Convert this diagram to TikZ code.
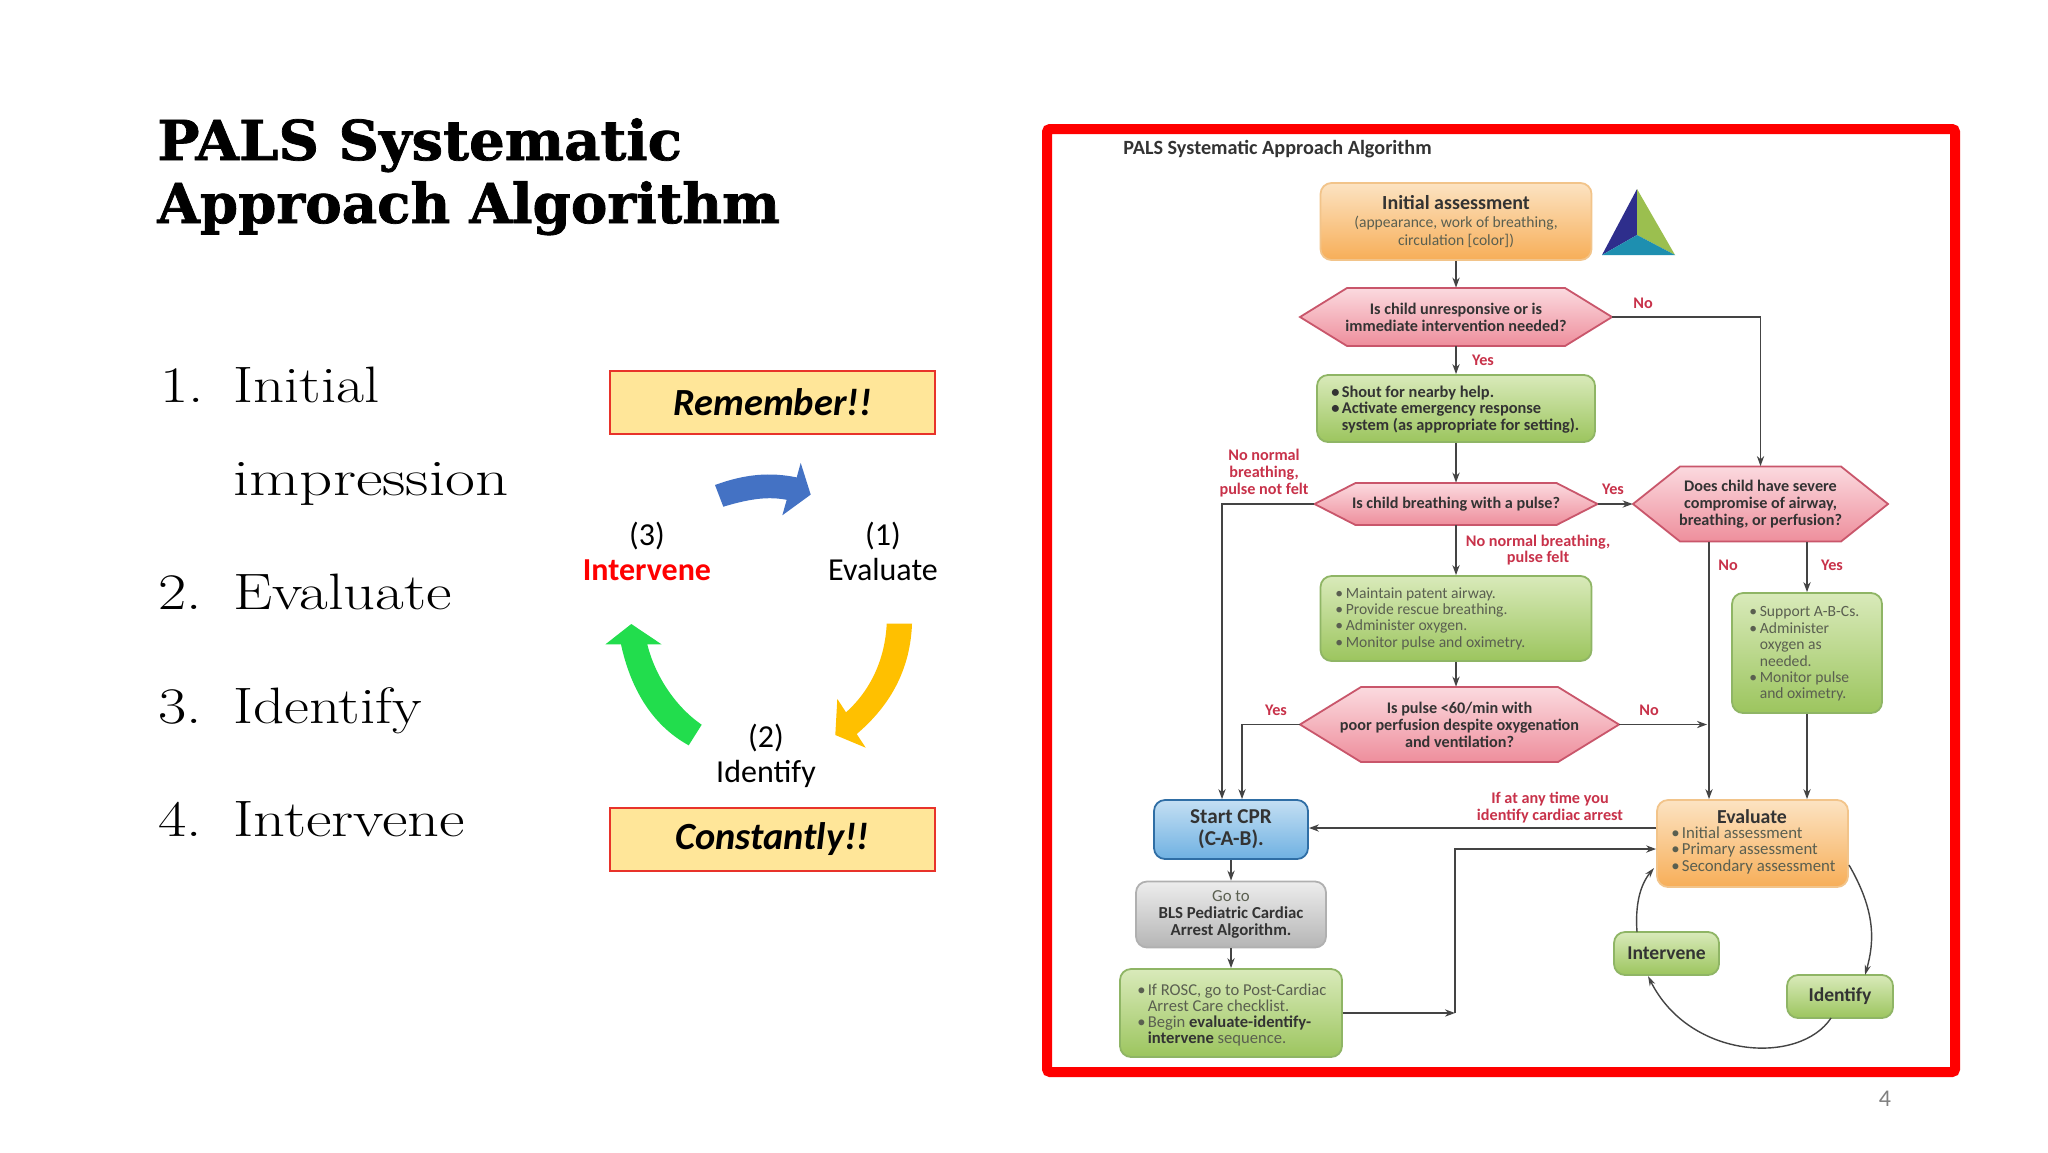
\documentclass[tikz,border=0pt]{standalone}
\usepackage{fontspec}
\usepackage{graphicx}
\usetikzlibrary{arrows.meta}
\newfontfamily\calib{Carlito}
\newfontfamily\ttl[BoldFeatures={FakeBold=1.3}]{DejaVu Serif}
\newcommand\hexc[1]{\definecolor{#1}{HTML}{#1}}
\hexc{F2C48A}\hexc{FCE3C2}\hexc{F7AE58}\hexc{8FB565}\hexc{D9EABA}\hexc{9CC55E}
\hexc{2F6EA5}\hexc{C4DFF3}\hexc{6FB1E2}\hexc{B0B0B0}\hexc{EDEDED}\hexc{B5B5B5}
\hexc{C9566B}\hexc{FBDADF}\hexc{EE8E9C}\hexc{E8332A}\hexc{FFE699}
\hexc{4472C4}\hexc{FFC000}\hexc{22DD4D}\hexc{2E2E8C}\hexc{9BBF4F}\hexc{1E8FB0}
\definecolor{linec}{HTML}{444444}
\definecolor{redt}{HTML}{C8324A}
\definecolor{dk}{HTML}{333333}
\definecolor{md}{HTML}{5A5F50}
\newcommand\hexnode[7]{%
  \path[hexfill] ({#2-#4/2},#3) -- ({#2-#4/2+#6},{#3-#5/2}) -- ({#2+#4/2-#6},{#3-#5/2}) -- ({#2+#4/2},#3) -- ({#2+#4/2-#6},{#3+#5/2}) -- ({#2-#4/2+#6},{#3+#5/2}) -- cycle;
  \node[sz={#4}{#5},align=center,font=\calib\bfseries\fontsize{8.1}{8.5}\selectfont,text=dk] (#1) at (#2,#3) {#7};}
\newcommand\bul{\makebox[5.2pt][l]{•}}
\tikzset{
  sz/.style 2 args={minimum width=#1*.5pt,minimum height=#2*.5pt,inner sep=0pt},
  rbox/.style={rectangle,rounded corners=5.5pt,line width=.9pt},
  orangebox/.style={rbox,draw=F2C48A,top color=FCE3C2,bottom color=F7AE58},
  greenbox/.style={rbox,draw=8FB565,top color=D9EABA,bottom color=9CC55E},
  bluebox/.style={rbox,draw=2F6EA5,top color=C4DFF3,bottom color=6FB1E2},
  graybox/.style={rbox,draw=B0B0B0,top color=EDEDED,bottom color=B5B5B5},
  hexfill/.style={draw=C9566B,line width=.9pt,top color=FBDADF,bottom color=EE8E9C},
  arr/.style={draw=linec,line width=.95pt,-{Stealth[length=5pt,width=3.6pt]}},
  cyc/.style={draw=linec,line width=.7pt,-{Stealth[length=5pt,width=3pt]}},
  redlab/.style={font=\calib\bfseries\fontsize{8.1}{8.3}\selectfont,text=redt,align=center,inner sep=0pt},
  blt/.style={anchor=west,align=left,inner sep=0pt,text=md,font=\calib\fontsize{7.8}{8.2}\selectfont},
  bltb/.style={blt,text=dk,font=\calib\bfseries\fontsize{8.2}{8.2}\selectfont},
  memo/.style={rectangle,draw=E8332A,line width=.9pt,fill=FFE699,sz={325}{63},font=\calib\bfseries\itshape\fontsize{19.2}{20}\selectfont},
  cyclab/.style={align=center,inner sep=0pt,font=\calib\fontsize{16}{17.5}\selectfont},
  body/.style={anchor=base west,inner sep=0pt,font=\fontsize{25.6}{30}\selectfont},
  head/.style={anchor=base west,inner sep=0pt,font=\ttl\bfseries\fontsize{27.5}{30}\selectfont},
  flow/.style={text=dk,font=\calib\bfseries\fontsize{9.8}{10}\selectfont}
}
\begin{document}
\begin{tikzpicture}[x=.5pt,y=-.5pt]
\useasboundingbox (0,0) rectangle (2048,1152);
\fill[white] (0,0) rectangle (2048,1152);
% title
\node[head] (t1) at (157,160) {\scalebox{1.02}[1]{PALS Systematic}};
\node[head] (t2) at (157,223) {\scalebox{.995}[1]{Approach Algorithm}};
% list
\node[body] (n1) at (160,402) {\scalebox{1.2}[1]{1.}};
\node[body] (l1) at (233,402) {\scalebox{1.19}[1]{Initial}};
\node[body] (l1b) at (233,495) {\scalebox{1.27}[1]{impression}};
\node[body] (n2) at (158,609) {\scalebox{1.2}[1]{2.}};
\node[body] (l2) at (233,609) {\scalebox{1.22}[1]{Evaluate}};
\node[body] (n3) at (158,723) {\scalebox{1.2}[1]{3.}};
\node[body] (l3) at (233,723) {\scalebox{1.19}[1]{Identify}};
\node[body] (n4) at (158,836) {\scalebox{1.2}[1]{4.}};
\node[body] (l4) at (233,836) {\scalebox{1.22}[1]{Intervene}};
% cycle
\node[memo] (rem) at (772.5,402.5) {Remember!!};
\node[memo] (con) at (772.5,839.5) {Constantly!!};
\node[cyclab] (c1) at (883,551.5) {(1)\\Evaluate};
\node[cyclab] (c2) at (766,756) {(2)\\Identify};
\node[cyclab] (c3) at (647,551.5) {(3)\\\textcolor{red}{\bfseries Intervene}};
\fill[color=4472C4] (715,485) -- (723.3,506.7) .. controls (753,497.7) and (770,496.7) .. (786.7,499.8) -- (782.3,515.3) -- (810.7,494.6) -- (800.7,462.9) -- (796.7,477.4) .. controls (770,471.9) and (745,474) .. cycle;
\fill[color=FFC000] (886.7,623.7) -- (912,623.7) .. controls (910,677.5) and (883,711.6) .. (856.7,734) -- (865.7,747.7) -- (835.3,735) -- (837.3,698.9) -- (846,712.3) .. controls (870,690.9) and (885,659.9) .. cycle;
\fill[color=22DD4D] (701.7,724.7) -- (688.7,745.3) .. controls (650,724) and (630,685.7) .. (621,644.4) -- (605.3,644.4) -- (631.3,624) -- (661.7,644.4) -- (647.3,644.4) .. controls (655,675.4) and (675,706.4) .. cycle;
% frame
\draw[red,line width=5pt,rounded corners=1.5pt] (1047,129) rectangle (1955,1072);
% flowchart
\node[anchor=west,inner sep=0pt,text=dk,font=\calib\bfseries\fontsize{10.1}{10}\selectfont] (ftitle) at (1123,149.5) {PALS Systematic Approach Algorithm};
\node[orangebox,sz={271}{77},align=center,text=md,font=\calib\fontsize{7.8}{9}\selectfont] (init) at (1456,221.5) {{\bfseries\color{dk}\fontsize{10}{9}\selectfont Initial assessment}\\(appearance, work of breathing,\\circulation [color])};
\fill[color=2E2E8C] (1637,189) -- (1637,235) -- (1602,255) -- cycle;
\fill[color=9BBF4F] (1637,189) -- (1637,235) -- (1675,255) -- cycle;
\fill[color=1E8FB0] (1637,235) -- (1602,255) -- (1675,255) -- cycle;
\hexnode{hexA}{1456}{317}{312}{58}{47}{Is child unresponsive or is\\immediate intervention needed?}
\node[greenbox,sz={278}{67}] (g1) at (1456,408.5) {};
\node[bltb] (g1t) at (1331,409.5) {\bul Shout for nearby help.\\\bul Activate emergency response\\\hspace*{5.2pt}system (as appropriate for setting).};
\hexnode{hexB}{1456}{504}{283}{42}{41}{Is child breathing with a pulse?}
\hexnode{hexC}{1760.5}{504}{255}{75}{47}{Does child have severe\\compromise of airway,\\breathing, or perfusion?}
\node[greenbox,sz={271}{85}] (g2) at (1456,618.5) {};
\node[blt] (g2t) at (1335,618.5) {\bul Maintain patent airway.\\\bul Provide rescue breathing.\\\bul Administer oxygen.\\\bul Monitor pulse and oximetry.};
\hexnode{hexD}{1459.5}{724.5}{319}{75}{61}{Is pulse <60/min with\\poor perfusion despite oxygenation\\and ventilation?}
\node[greenbox,sz={150}{120}] (sup) at (1807,653) {};
\node[blt] (supt) at (1749,654) {\bul Support A-B-Cs.\\\bul Administer\\\hspace*{5.2pt}oxygen as\\\hspace*{5.2pt}needed.\\\bul Monitor pulse\\\hspace*{5.2pt}and oximetry.};
\node[orangebox,sz={191}{87}] (eval) at (1752.5,843.5) {};
\node[anchor=center,inner sep=0pt,text=dk,font=\calib\bfseries\fontsize{9.9}{9}\selectfont] (evalh) at (1752,816.5) {Evaluate};
\node[blt,font=\calib\fontsize{8.4}{8.2}\selectfont] (evalt) at (1671,850.5) {\bul Initial assessment\\\bul Primary assessment\\\bul Secondary assessment};
\node[bluebox,sz={154}{59},align=center,flow,font=\calib\bfseries\fontsize{10.6}{11}\selectfont] (cpr) at (1231,829.5) {Start CPR\\(C-A-B).};
\node[graybox,sz={190}{66},align=center,text=dk,font=\calib\bfseries\fontsize{8.4}{8.6}\selectfont] (goto) at (1231,914.5) {{\mdseries\color{md}Go to}\\BLS Pediatric Cardiac\\Arrest Algorithm.};
\node[greenbox,sz={222}{88}] (g3) at (1231,1013) {};
\node[blt,font=\calib\fontsize{8.3}{8}\selectfont] (g3t) at (1137,1015) {\bul If ROSC, go to Post-Cardiac\\\hspace*{5.2pt}Arrest Care checklist.\\\bul Begin {\bfseries\color{dk}evaluate-identify-}\\\hspace*{5.2pt}{\bfseries\color{dk}intervene} sequence.};
\node[greenbox,sz={105}{43},flow] (inter) at (1666.5,953.5) {Intervene};
\node[greenbox,sz={106}{43},flow] (ident) at (1840,996.5) {Identify};
% helper coordinates
\coordinate (xa) at (1222,0);
\coordinate (xb) at (1242,0);
\coordinate (xno) at (1709,0);
\coordinate (xyes) at (1807,0);
\coordinate (ya) at (0,828);
\coordinate (yb) at (0,849);
\coordinate (jn) at (1455,1013);
\coordinate (ea) at (1849,865);
\coordinate (eb) at (1654,868);
\coordinate (ia) at (1865,975);
\coordinate (ib) at (1831,1018);
\coordinate (ic) at (1648,976);
\coordinate (id) at (1637,932);
% connectors
\draw[arr] (init.south) -- (hexA.north);
\draw[arr] (hexA.south) -- (g1.north);
\draw[arr] (hexA.east) -| (hexC.north);
\draw[arr] (g1.south) -- (hexB.north);
\draw[arr] (hexB.east) -- (hexC.west);
\draw[arr] (hexB.south) -- (g2.north);
\draw[arr] (hexB.west) -| (xa |- cpr.north);
\draw[arr] (g2.south) -- (g2.south |- hexD.north);
\draw[arr] (hexD.west) -| (xb |- cpr.north);
\draw[arr] (hexD.east) -- ([xshift=-1pt]xno |- hexD.east);
\draw[arr] (xno |- hexC.south) -- (xno |- eval.north);
\draw[arr] (xyes |- hexC.south) -- (xyes |- sup.north);
\draw[arr] (sup.south) -- (sup.south |- eval.north);
\draw[arr] (ya -| eval.west) -- (ya -| cpr.east);
\draw[arr] (cpr.south) -- (goto.north);
\draw[arr] (goto.south) -- (g3.north);
\draw[arr] (g3.east) -- (jn);
\draw[arr] (jn) |- (yb -| eval.west);
\draw[cyc] (ea) .. controls (1875,910) and (1875,940) .. (ia);
\draw[cyc] (ib) .. controls (1800,1065) and (1690,1060) .. (ic);
\draw[cyc] (id) .. controls (1635,905) and (1640,885) .. (eb);
% labels
\node[redlab] (lno1) at (1643,303) {No};
\node[redlab] (lyes1) at (1483,360) {Yes};
\node[redlab] (lnn) at (1264,473) {No normal\\breathing,\\pulse not felt};
\node[redlab] (lyes2) at (1613,489) {Yes};
\node[redlab] (lnf) at (1538,550) {No normal breathing,\\pulse felt};
\node[redlab] (lno2) at (1728,565) {No};
\node[redlab] (lyes3) at (1832,565) {Yes};
\node[redlab] (lyes4) at (1276,710) {Yes};
\node[redlab] (lno3) at (1649,710) {No};
\node[redlab] (lif) at (1550,807.5) {If at any time you\\identify cardiac arrest};
\node[inner sep=0pt,text=gray,font=\calib\fontsize{12}{12}\selectfont] (pg) at (1885,1099) {4};
\end{tikzpicture}
\end{document}
